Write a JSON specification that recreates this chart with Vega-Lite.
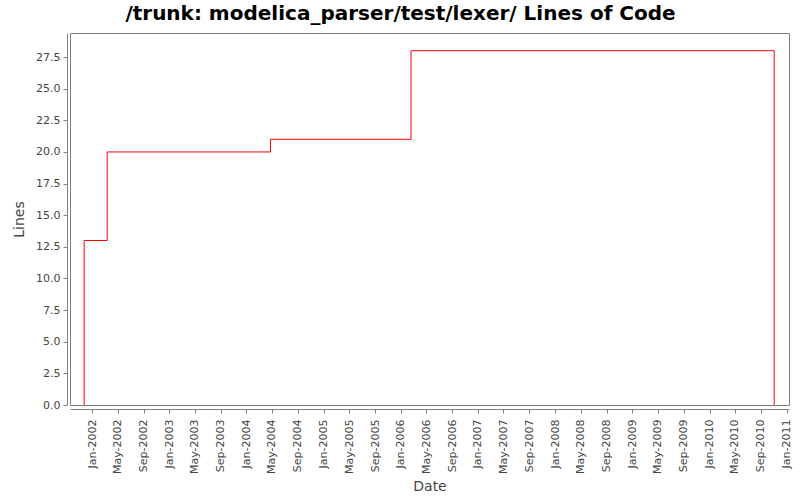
{
  "$schema": "https://vega.github.io/schema/vega-lite/v6.json",
  "width": 719,
  "height": 372,
  "autosize": {"type": "none"},
  "padding": {"left": 70, "top": 33, "right": 11, "bottom": 95},
  "background": "white",
  "title": {
    "text": "/trunk: modelica_parser/test/lexer/ Lines of Code",
    "font": "DejaVu Sans",
    "fontSize": 20,
    "fontWeight": "bold",
    "color": "black",
    "anchor": "middle",
    "dx": -29,
    "offset": 9
  },
  "config": {
    "view": {"stroke": "#808080", "strokeWidth": 1},
    "axis": {
      "grid": false,
      "domainColor": "#808080",
      "tickColor": "#808080",
      "labelColor": "#444444",
      "labelFont": "DejaVu Sans",
      "labelFontSize": 11,
      "titleFont": "DejaVu Sans",
      "titleFontSize": 14,
      "titleFontWeight": "normal",
      "titleColor": "#444444",
      "tickSize": 4
    }
  },
  "data": {
    "values": [
      {"date": "2001-11-24", "lines": 0},
      {"date": "2001-11-24", "lines": 13},
      {"date": "2002-03-13", "lines": 20},
      {"date": "2004-04-24", "lines": 21},
      {"date": "2006-02-18", "lines": 28},
      {"date": "2010-11-03", "lines": 0}
    ]
  },
  "mark": {"type": "line", "interpolate": "step-after", "color": "#ff0000", "strokeWidth": 1},
  "encoding": {
    "x": {
      "field": "date",
      "type": "temporal",
      "title": "Date",
      "scale": {"domain": ["2001-09-18", "2011-01-12"], "nice": false},
      "axis": {
        "format": "%b-%Y",
        "tickCount": {"interval": "month", "step": 4},
        "labelAngle": 270,
        "labelAlign": "right",
        "labelBaseline": "middle",
        "labelOverlap": false,
        "labelPadding": 6,
        "offset": 4,
        "titlePadding": 6
      }
    },
    "y": {
      "field": "lines",
      "type": "quantitative",
      "title": "Lines",
      "scale": {"domain": [0, 29.4], "nice": false, "zero": false},
      "axis": {
        "values": [0, 2.5, 5, 7.5, 10, 12.5, 15, 17.5, 20, 22.5, 25, 27.5],
        "format": ".1f",
        "offset": 3,
        "labelPadding": 3,
        "titlePadding": 9
      }
    }
  }
}
